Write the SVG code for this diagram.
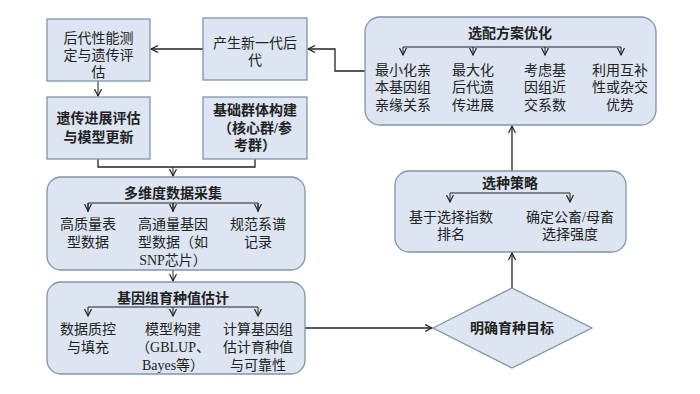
<svg xmlns="http://www.w3.org/2000/svg" width="700" height="394" viewBox="0 0 700 394">
<defs>
<marker id="a" markerUnits="userSpaceOnUse" markerWidth="10" markerHeight="10" refX="7" refY="4" orient="auto">
<path d="M0,0.5 L7,4 L0,7.5" fill="none" stroke="#222" stroke-width="1.2"/>
</marker>
<style>
.box{fill:#dce5f1;stroke:#8094ad;stroke-width:1.3}
.t{font-family:"Liberation Serif","Noto Sans CJK SC",serif;font-size:14px;fill:#222;text-anchor:middle}
.b{font-weight:bold}
.c{fill:none;stroke:#222;stroke-width:1.3}
.s{fill:none;stroke:#222;stroke-width:1}
</style>
</defs>
<rect width="700" height="394" fill="#fff"/>
<g id="connectors">
<path class="c" d="M203,49 H151" marker-end="url(#a)"/>
<path class="c" d="M365,71 H335 V49 H308" marker-end="url(#a)"/>
<path class="s" d="M98,81 V96" marker-end="url(#a)"/>
<path class="c" d="M98,159 V167 H255 V159"/>
<path class="s" d="M173,167 V176" marker-end="url(#a)"/>
<path class="s" d="M173,270 V281" marker-end="url(#a)"/>
<path class="c" d="M305,328 H432" marker-end="url(#a)"/>
<path class="c" d="M512,288 V253" marker-end="url(#a)"/>
<path class="c" d="M512,171 V126" marker-end="url(#a)"/>
</g>
<g id="n1"><rect class="box" x="47" y="19" width="103" height="62"/>
<text class="t"><tspan x="98.5" y="43">后代性能测</tspan><tspan x="98.5" y="60">定与遗传评</tspan><tspan x="98.5" y="77">估</tspan></text></g>
<g id="n2"><rect class="box" x="203" y="18" width="104" height="62"/>
<text class="t"><tspan x="255" y="48">产生新一代后</tspan><tspan x="255" y="65">代</tspan></text></g>
<g id="n3"><rect class="box" x="47" y="97" width="103" height="62"/>
<text class="t b"><tspan x="98.5" y="123">遗传进展评估</tspan><tspan x="98.5" y="142">与模型更新</tspan></text></g>
<g id="n4"><rect class="box" x="203" y="97" width="104" height="62"/>
<text class="t b"><tspan x="255" y="115">基础群体构建</tspan><tspan x="255" y="133">（核心群/参</tspan><tspan x="255" y="150">考群）</tspan></text></g>
<g id="n5"><rect class="box" x="47" y="177" width="258" height="93" rx="14"/>
<text class="t b" x="173" y="198">多维度数据采集</text>
<path class="s" d="M88,212 V203 H258 V212 M173,203 V212" />
<path class="s" d="M88,203 V211" marker-end="url(#a)"/><path class="s" d="M173,203 V211" marker-end="url(#a)"/><path class="s" d="M258,203 V211" marker-end="url(#a)"/>
<text class="t"><tspan x="88" y="229">高质量表</tspan><tspan x="88" y="247">型数据</tspan></text>
<text class="t"><tspan x="173" y="229">高通量基因</tspan><tspan x="173" y="247">型数据（如</tspan><tspan x="173" y="265">SNP芯片）</tspan></text>
<text class="t"><tspan x="258" y="229">规范系谱</tspan><tspan x="258" y="247">记录</tspan></text></g>
<g id="n6"><rect class="box" x="47" y="282" width="258" height="92" rx="14"/>
<text class="t b" x="173" y="303">基因组育种值估计</text>
<path class="s" d="M88,307 H258"/>
<path class="s" d="M88,307 V316" marker-end="url(#a)"/><path class="s" d="M173,307 V316" marker-end="url(#a)"/><path class="s" d="M258,307 V316" marker-end="url(#a)"/>
<text class="t"><tspan x="88" y="334">数据质控</tspan><tspan x="88" y="352">与填充</tspan></text>
<text class="t"><tspan x="173" y="334">模型构建</tspan><tspan x="173" y="352">（GBLUP、</tspan><tspan x="173" y="370">Bayes等）</tspan></text>
<text class="t"><tspan x="258" y="334">计算基因组</tspan><tspan x="258" y="352">估计育种值</tspan><tspan x="258" y="370">与可靠性</tspan></text></g>
<g id="n7"><polygon class="box" points="433,328 512,288 592,328 512,368"/>
<text class="t b" x="512" y="333">明确育种目标</text></g>
<g id="n8"><rect class="box" x="395" y="171" width="231" height="81" rx="14"/>
<text class="t b" x="510" y="188">选种策略</text>
<path class="s" d="M450,193 H570"/>
<path class="s" d="M450,193 V202" marker-end="url(#a)"/><path class="s" d="M570,193 V202" marker-end="url(#a)"/>
<text class="t"><tspan x="451" y="222">基于选择指数</tspan><tspan x="451" y="239">排名</tspan></text>
<text class="t"><tspan x="570" y="222">确定公畜/母畜</tspan><tspan x="570" y="239">选择强度</tspan></text></g>
<g id="n9"><rect class="box" x="365" y="17" width="291" height="108" rx="15"/>
<text class="t b" x="510" y="38">选配方案优化</text>
<path class="s" d="M403,47 H621"/>
<path class="s" d="M403,47 V55" marker-end="url(#a)"/><path class="s" d="M473,47 V55" marker-end="url(#a)"/><path class="s" d="M545,47 V55" marker-end="url(#a)"/><path class="s" d="M621,47 V55" marker-end="url(#a)"/>
<text class="t"><tspan x="403" y="75">最小化亲</tspan><tspan x="403" y="92">本基因组</tspan><tspan x="403" y="110">亲缘关系</tspan></text>
<text class="t"><tspan x="473" y="75">最大化</tspan><tspan x="473" y="92">后代遗</tspan><tspan x="473" y="110">传进展</tspan></text>
<text class="t"><tspan x="545" y="75">考虑基</tspan><tspan x="545" y="92">因组近</tspan><tspan x="545" y="110">交系数</tspan></text>
<text class="t"><tspan x="620" y="75">利用互补</tspan><tspan x="620" y="92">性或杂交</tspan><tspan x="620" y="110">优势</tspan></text></g>
</svg>
